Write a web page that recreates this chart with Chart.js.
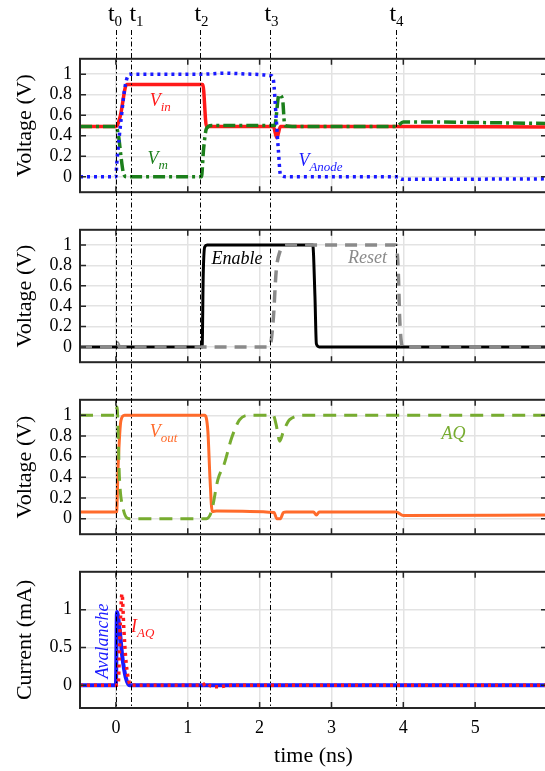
<!DOCTYPE html>
<html>
<head>
<meta charset="utf-8">
<script src="https://cdn.jsdelivr.net/npm/chart.js@4.4.0/dist/chart.umd.min.js"></script>
<style>
  html, body { margin: 0; padding: 0; background: #fff; }
  #wrap { position: relative; width: 545px; height: 771px; overflow: hidden; }
  #wrap canvas { position: absolute; left: 0; }
  #overlay { pointer-events: none; z-index: 5; }
</style>
</head>
<body>
<div id="wrap">
  <canvas id="p1"></canvas>
  <canvas id="p2"></canvas>
  <canvas id="p3"></canvas>
  <canvas id="p4"></canvas>
  <canvas id="overlay"></canvas>
</div>
<script>
// ---------- datos ----------
const xTicks = [0, 1, 2, 3, 4, 5];
const voltTicks = [0, 0.2, 0.4, 0.6, 0.8, 1];
const currTicks = [0, 0.5, 1];
const markerTimes = [0, 0.21, 1.17, 2.15, 3.9];   // t0..t4

// panel 1
const vinT  = [-0.5, 0, 0.06, 0.15, 1.21, 1.26, 2.19, 2.24, 2.29, 3.9, 6];
const vinV  = [0.49, 0.49, 0.59, 0.9, 0.9, 0.49, 0.49, 0.38, 0.49, 0.49, 0.485];
const vmT   = [-0.5, 0, 0.04, 0.07, 0.1, 0.15, 1.19, 1.22, 1.26, 1.33, 2.21, 2.27, 2.32, 2.35, 2.5, 3.9, 4.0, 6];
const vmV   = [0.49, 0.49, 0.38, 0.2, 0.05, 0, 0, 0.27, 0.47, 0.5, 0.5, 0.8, 0.75, 0.5, 0.49, 0.49, 0.535, 0.52];
const vanT  = [-0.5, 0, 0.01, 0.075, 0.13, 0.19, 1.2, 1.5, 1.9, 2.16, 2.19, 2.23, 2.26, 2.29, 2.37, 3.93, 3.97, 6];
const vanV  = [0, 0, 0.11, 0.58, 0.89, 1.0, 1.0, 1.01, 1.0, 0.985, 0.95, 0.58, 0.27, 0.02, 0, 0, -0.025, -0.02];

// panel 2
const enT   = [-0.5, 1.2, 1.215, 1.235, 1.27, 2.74, 2.77, 2.79, 2.83, 6];
const enV   = [0, 0, 0.7, 0.98, 1.0, 1.0, 0.5, 0.03, 0, 0];
const rstT  = [-0.5, 0, 0.02, 0.05, 2.14, 2.19, 2.23, 2.28, 2.37, 3.9, 3.93, 3.95, 3.99, 6];
const rstV  = [0, 0, 0.04, 0, 0, 0.27, 0.74, 0.93, 1.0, 1.0, 0.74, 0.27, 0, 0];

// panel 3
const voutT = [-0.5, 0.01, 0.03, 0.07, 0.12, 1.235, 1.28, 1.31, 1.34, 1.4, 2.2, 2.24, 2.29, 2.33, 2.37, 2.75, 2.79, 2.83, 3.9, 4.0, 6];
const voutV = [0.065, 0.065, 0.5, 0.95, 1.0, 1.0, 0.845, 0.38, 0.07, 0.075, 0.06, 0.0, 0.0, 0.06, 0.065, 0.065, 0.035, 0.065, 0.065, 0.03, 0.035];
const aqT   = [-0.5, 0, 0.015, 0.05, 0.1, 0.19, 1.26, 1.33, 1.42, 1.51, 1.61, 1.72, 1.86, 2.19, 2.23, 2.28, 2.33, 2.42, 2.65, 6];
const aqV   = [1.0, 1.0, 1.08, 0.38, 0.1, 0, 0, 0.07, 0.38, 0.535, 0.78, 0.955, 1.0, 1.0, 0.91, 0.75, 0.84, 0.96, 1.0, 1.0];

// panel 4
const avT   = [-0.5, 0, 0.014, 0.05, 0.09, 0.135, 0.19, 6];
const avV   = [0, 0, 0.97, 0.75, 0.37, 0.11, 0, 0];
const iaqT  = [-0.5, 0.03, 0.06, 0.085, 0.11, 0.135, 0.17, 0.21, 1.2, 1.26, 1.32, 1.42, 1.6, 6];
const iaqV  = [0, 0, 0.8, 1.21, 0.75, 0.37, 0.1, 0, 0, 0.03, -0.01, -0.02, 0, 0];

// ---------- estilo / geometria ----------
const W = 552;            // el borde derecho del grafico cae justo fuera de la pagina
const PLOT_LEFT = 80;
const PLOT_RIGHT = 547;
const SERIF = "'Liberation Serif', 'Times New Roman', serif";
const GRID = '#e3e3e3';
const MARKER_LABEL_SHIFT = [-1.5, 5, 1, 1, 0];   // desplazamiento horizontal de t0..t4

function pts(ts, vs) {
  return ts.map((t, i) => ({ x: t, y: vs[i] }));
}

// caja negra con marcas hacia dentro en los cuatro lados
const boxPlugin = {
  id: 'box',
  afterDraw(chart) {
    const { ctx, chartArea: a, scales } = chart;
    ctx.save();
    ctx.strokeStyle = '#262626';
    ctx.lineWidth = 2;
    ctx.strokeRect(a.left, a.top, a.right - a.left, a.bottom - a.top);
    ctx.lineWidth = 1.5;
    ctx.beginPath();
    scales.x.ticks.forEach(t => {
      const x = scales.x.getPixelForValue(t.value);
      ctx.moveTo(x, a.top); ctx.lineTo(x, a.top + 6);
      ctx.moveTo(x, a.bottom); ctx.lineTo(x, a.bottom - 6);
    });
    scales.y.ticks.forEach(t => {
      const y = scales.y.getPixelForValue(t.value);
      ctx.moveTo(a.left, y); ctx.lineTo(a.left + 6, y);
      ctx.moveTo(a.right, y); ctx.lineTo(a.right - 6, y);
    });
    ctx.stroke();
    ctx.restore();
  }
};

// etiquetas de cada curva (cursiva, con subindice)
const notesPlugin = {
  id: 'notes',
  afterDatasetsDraw(chart, args, opts) {
    const { ctx, scales } = chart;
    (opts.items || []).forEach(n => {
      const x = scales.x.getPixelForValue(n.x);
      const y = scales.y.getPixelForValue(n.y);
      ctx.save();
      ctx.fillStyle = n.color;
      ctx.textBaseline = 'alphabetic';
      ctx.translate(x, y);
      if (n.rotate) ctx.rotate(n.rotate);
      ctx.font = 'italic 18px ' + SERIF;
      ctx.fillText(n.text, 0, 0);
      if (n.sub) {
        const w = ctx.measureText(n.text).width;
        ctx.font = 'italic 13px ' + SERIF;
        ctx.fillText(n.sub, w, 5);
      }
      ctx.restore();
    });
  }
};

function makePanel(id, box, cfg) {
  const cv = document.getElementById(id);
  const padTop = 16;
  const padBottom = cfg.showX ? 0 : 16;
  const xAxisH = cfg.showX ? 63 : 0;
  cv.width = W;
  cv.height = (box[1] - box[0]) + padTop + padBottom + xAxisH;
  cv.style.top = (box[0] - padTop) + 'px';

  return new Chart(cv, {
    type: 'line',
    data: { datasets: cfg.datasets },
    options: {
      responsive: false,
      animation: false,
      events: [],
      layout: { padding: { top: padTop, bottom: padBottom, left: 0, right: W - PLOT_RIGHT } },
      elements: { point: { radius: 0 }, line: { cubicInterpolationMode: 'monotone' } },
      plugins: {
        legend: { display: false },
        tooltip: { enabled: false },
        notes: { items: cfg.notes }
      },
      scales: {
        x: {
          type: 'linear', min: -0.5, max: 6,
          afterBuildTicks: s => { s.ticks = xTicks.map(v => ({ value: v })); },
          afterFit: s => { s.height = xAxisH; },
          grid: { color: GRID, lineWidth: 1.5, drawTicks: false },
          border: { display: false },
          ticks: { display: !!cfg.showX, padding: 9, color: '#000', font: { family: SERIF, size: 18 } },
          title: {
            display: !!cfg.showX, text: 'time (ns)', color: '#000',
            font: { family: SERIF, size: 22 }, padding: { top: 0, bottom: 2 }
          }
        },
        y: {
          type: 'linear', min: cfg.ymin, max: cfg.ymax,
          afterBuildTicks: s => { s.ticks = cfg.yTicks.map(v => ({ value: v })); },
          afterFit: s => { s.width = PLOT_LEFT; },
          grid: { color: GRID, lineWidth: 1.5, drawTicks: false },
          border: { display: false },
          ticks: {
            padding: 8, color: '#000', font: { family: SERIF, size: 18 },
            callback: v => String(+v.toFixed(2))
          },
          title: {
            display: true, text: cfg.yTitle, color: '#000',
            font: { family: SERIF, size: 22 }, padding: { top: 12, bottom: 0 }
          }
        }
      }
    },
    plugins: [boxPlugin, notesPlugin]
  });
}

// Panel 1: Vin, Vm, VAnode
makePanel('p1', [56, 195], {
  ymin: -0.15, ymax: 1.15, yTicks: voltTicks, yTitle: 'Voltage (V)',
  datasets: [
    { data: pts(vanT, vanV), borderColor: '#1a1aff', borderWidth: 3.5, borderDash: [3, 4] },
    { data: pts(vmT, vmV), borderColor: '#1b7f1b', borderWidth: 3.5, borderDash: [12, 4, 3, 4] },
    { data: pts(vinT, vinV), borderColor: '#ff1a1a', borderWidth: 3.5 }
  ],
  notes: [
    { text: 'V', sub: 'in', x: 0.47, y: 0.686, color: '#ff1a1a' },
    { text: 'V', sub: 'm', x: 0.44, y: 0.125, color: '#1b7f1b' },
    { text: 'V', sub: 'Anode', x: 2.54, y: 0.11, color: '#1a1aff' }
  ]
});

// Panel 2: Enable, Reset
makePanel('p2', [227, 365], {
  ymin: -0.15, ymax: 1.15, yTicks: voltTicks, yTitle: 'Voltage (V)',
  datasets: [
    { data: pts(rstT, rstV), borderColor: '#8a8a8a', borderWidth: 3.5, borderDash: [12, 8] },
    { data: pts(enT, enV), borderColor: '#000000', borderWidth: 3 }
  ],
  notes: [
    { text: 'Enable', x: 1.33, y: 0.81, color: '#000000' },
    { text: 'Reset', x: 3.23, y: 0.82, color: '#8a8a8a' }
  ]
});

// Panel 3: Vout, AQ
makePanel('p3', [397, 537], {
  ymin: -0.15, ymax: 1.15, yTicks: voltTicks, yTitle: 'Voltage (V)',
  datasets: [
    { data: pts(aqT, aqV), borderColor: '#77ac30', borderWidth: 3, borderDash: [13, 8] },
    { data: pts(voutT, voutV), borderColor: '#ff6b2b', borderWidth: 3 }
  ],
  notes: [
    { text: 'V', sub: 'out', x: 0.47, y: 0.79, color: '#ff6b2b' },
    { text: 'AQ', x: 4.53, y: 0.77, color: '#77ac30' }
  ]
});

// Panel 4: corrientes
makePanel('p4', [569, 708], {
  ymin: -0.3, ymax: 1.5, yTicks: currTicks, yTitle: 'Current (mA)', showX: true,
  datasets: [
    { data: pts(iaqT, iaqV), borderColor: '#ff1a1a', borderWidth: 3.5, borderDash: [3, 4] },
    { data: pts(avT, avV), borderColor: '#1a1aff', borderWidth: 4 }
  ],
  notes: [
    { text: 'Avalanche', x: -0.115, y: 0.09, color: '#1a1aff', rotate: -Math.PI / 2 },
    { text: 'I', sub: 'AQ', x: 0.21, y: 0.71, color: '#ff1a1a' }
  ]
});

// ---------- lineas verticales t0..t4 (capa encima de los 4 paneles) ----------
const markerPlugin = {
  id: 'markers',
  afterDraw(chart) {
    const { ctx, scales } = chart;
    ctx.save();
    markerTimes.forEach((t, i) => {
      const x = Math.round(scales.x.getPixelForValue(t)) + 0.5;
      ctx.strokeStyle = '#000';
      ctx.lineWidth = 1;
      ctx.setLineDash([5, 2.5, 1.5, 2.5]);
      ctx.beginPath();
      ctx.moveTo(x, 30);
      ctx.lineTo(x, 708);
      ctx.stroke();

      ctx.setLineDash([]);
      ctx.fillStyle = '#000';
      ctx.font = '24px ' + SERIF;
      const wt = ctx.measureText('t').width;
      ctx.font = '15px ' + SERIF;
      const ws = ctx.measureText(String(i)).width;
      const left = x + MARKER_LABEL_SHIFT[i] - (wt + ws) / 2;
      ctx.font = '24px ' + SERIF;
      ctx.fillText('t', left, 21);
      ctx.font = '15px ' + SERIF;
      ctx.fillText(String(i), left + wt, 25.5);
    });
    ctx.restore();
  }
};

const ov = document.getElementById('overlay');
ov.width = W;
ov.height = 771;
ov.style.top = '0px';
new Chart(ov, {
  type: 'line',
  data: { datasets: [] },
  options: {
    responsive: false,
    animation: false,
    events: [],
    layout: { padding: { top: 0, bottom: 0, left: PLOT_LEFT, right: W - PLOT_RIGHT } },
    plugins: { legend: { display: false }, tooltip: { enabled: false } },
    scales: {
      x: { type: 'linear', min: -0.5, max: 6, display: false },
      y: { display: false }
    }
  },
  plugins: [markerPlugin]
});
</script>
</body>
</html>
